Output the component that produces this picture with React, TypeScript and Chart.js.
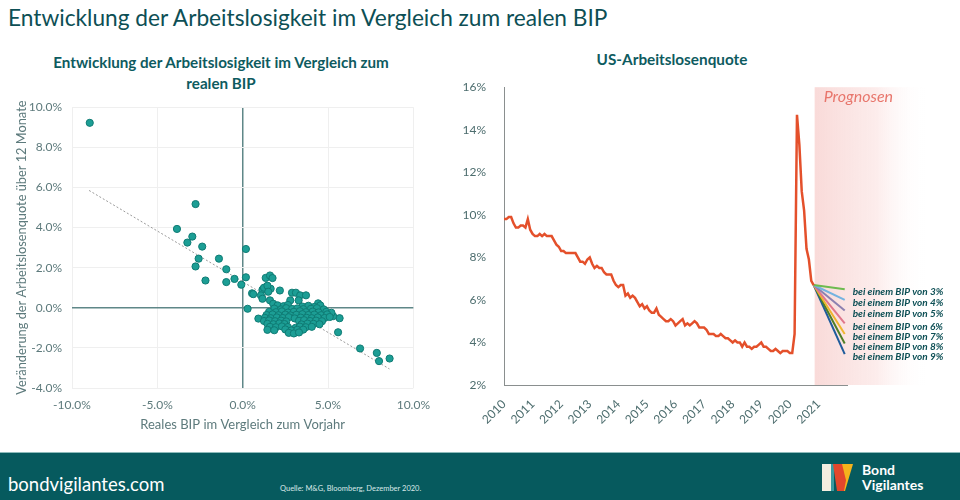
import React, { useEffect, useRef } from "react";
import { Chart, registerables } from "chart.js";

Chart.register(...registerables);

// ---------- Left chart data (scatter) ----------
const gdpGrowth = [
  -8.96, -2.76, -3.85, -2.95, -3.24, -2.37, -2.58, -2.76, -2.18, -1.39, -0.96, -0.96, -0.48, -0.08,
  0.19, 0.19, 0.29, 0.55, 0.62, 0.92, 6.88, 7.86, 7.99, 8.61, 5.59, 5.68, 5.3,
  1.35, 1.6, 1.75, 1.16, 1.25, 1.64, 2.18, 2.89, 3.12, 3.37, 3.71, 3.28, 2.79, 1.6, 1.79, 4.42, 1.07, 1.16, 1.45, 1.5,
  2.05, 2.4, 2.65, 3.5, 3.85, 4.2, 4.55,
  1.85, 2.25, 2.55, 2.9, 3.2, 3.55, 4.0, 4.35, 4.75,
  1.55, 1.95, 2.3, 2.65, 3.0, 3.35, 3.7, 4.1, 4.45, 4.9, 5.2,
  1.4, 1.75, 2.1, 2.5, 2.8, 3.15, 3.5, 3.85, 4.2, 4.6, 4.95,
  1.3, 1.65, 2.0, 2.35, 2.7, 3.05, 3.4, 3.75, 4.05, 4.4, 4.8, 5.1,
  1.25, 1.55, 1.9, 2.25, 2.55, 3.3, 3.6, 3.95, 4.3, 4.65,
  1.45, 1.8, 2.15, 2.45, 3.45, 3.8, 4.15, 4.5,
  1.6, 1.95, 2.3, 2.65, 3.1, 3.35, 3.7, 4.05,
  1.45, 1.85, 2.5, 2.85, 3.2, 3.55,
  2.7, 3.0, 3.3,
];
const unemploymentChange = [
  9.22, 5.17, 3.93, 3.55, 3.25, 3.05, 2.45, 2.06, 1.36, 2.45, 1.92, 1.28, 1.44, 1.15,
  2.93, 1.52, -0.05, 0.72, 0.68, -0.54, -2.03, -2.25, -2.66, -2.53, -1.22, -0.52, -0.42,
  1.49, 1.61, 1.48, 0.9, 1.0, 0.95, 0.86, 0.75, 0.75, 0.62, 0.62, 0.37, 0.37, 0.37, 0.2, 0.22, 0.62, 0.45, 1.1, 0.8,
  0.12, 0.08, 0.14, 0.06, 0.1, 0.04, 0.12,
  -0.04, -0.08, -0.02, -0.06, -0.03, -0.07, -0.05, -0.02, -0.08,
  -0.2, -0.22, -0.18, -0.24, -0.2, -0.17, -0.22, -0.19, -0.23, -0.2, -0.25,
  -0.36, -0.33, -0.37, -0.34, -0.38, -0.35, -0.32, -0.36, -0.34, -0.37, -0.33,
  -0.5, -0.52, -0.48, -0.51, -0.47, -0.53, -0.49, -0.5, -0.52, -0.48, -0.51, -0.46,
  -0.66, -0.63, -0.67, -0.64, -0.68, -0.65, -0.62, -0.66, -0.64, -0.67,
  -0.8, -0.82, -0.78, -0.81, -0.83, -0.79, -0.8, -0.82,
  -0.95, -0.97, -0.93, -0.96, -1.0, -0.94, -0.97, -0.95,
  -1.1, -1.12, -1.08, -1.13, -1.1, -1.09,
  -1.25, -1.28, -1.23,
];
const trendX = [-9.0, 8.6];
const trendY = [5.85, -3.05];

// ---------- Right chart data (US unemployment rate, monthly from Jan 2010) ----------
const startYear = 2010;
const unemploymentRate = [
  9.8, 9.8, 9.9, 9.9, 9.6, 9.4, 9.4, 9.5, 9.5, 9.4, 9.8, 9.3,
  9.1, 9.0, 9.0, 9.1, 9.0, 9.1, 9.0, 9.0, 9.0, 8.8, 8.6, 8.5,
  8.3, 8.3, 8.2, 8.2, 8.2, 8.2, 8.2, 8.0, 7.8, 7.8, 7.7, 7.9,
  8.0, 7.7, 7.5, 7.6, 7.5, 7.5, 7.3, 7.2, 7.2, 7.2, 6.9, 6.7,
  6.6, 6.7, 6.7, 6.2, 6.3, 6.1, 6.2, 6.1, 5.9, 5.7, 5.8, 5.6,
  5.7, 5.5, 5.4, 5.4, 5.6, 5.3, 5.2, 5.1, 5.0, 5.0, 5.1, 5.0,
  4.8, 4.9, 5.0, 5.1, 4.8, 4.9, 4.8, 4.9, 5.0, 4.9, 4.7, 4.7,
  4.7, 4.6, 4.4, 4.4, 4.4, 4.3, 4.3, 4.4, 4.3, 4.2, 4.2, 4.1,
  4.0, 4.1, 4.0, 4.0, 3.8, 4.0, 3.8, 3.8, 3.7, 3.8, 3.8, 3.9,
  4.0, 3.8, 3.8, 3.7, 3.6, 3.6, 3.7, 3.6, 3.5, 3.6, 3.6, 3.6,
  3.5, 3.5, 4.4, 14.7, 13.3, 11.1, 10.2, 8.4, 7.9, 6.9, 6.7,
];
const yearLabels = ["2010", "2011", "2012", "2013", "2014", "2015", "2016", "2017", "2018", "2019", "2020", "2021"];
const forecastEndYear = 2021.92;
const forecastGdp = [3, 4, 5, 6, 7, 8, 9];
const forecastEndRate = [6.5, 6.0, 5.5, 4.9, 4.4, 3.95, 3.45];
const forecastColors = ["#6dbb4f", "#74b3e0", "#8c80b0", "#e0778c", "#f0b52e", "#4f7f26", "#1f5c9c"];

const FONT = "Lato, 'Open Sans', sans-serif";
const TEAL_DARK = "#0d4f55";

export default function App() {
  const leftRef = useRef<HTMLCanvasElement | null>(null);
  const rightRef = useRef<HTMLCanvasElement | null>(null);

  useEffect(() => {
    Chart.defaults.font.family = FONT;

    const scatterPoints = gdpGrowth.map((x, i) => ({ x, y: unemploymentChange[i] }));
    const trendPoints = trendX.map((x, i) => ({ x, y: trendY[i] }));
    const leftTick = "#5d7a7c";

    const left = new Chart(leftRef.current!, {
      type: "scatter",
      data: {
        datasets: [
          {
            type: "line",
            data: trendPoints,
            borderColor: "#9a9a9a",
            borderWidth: 1,
            borderDash: [2, 2],
            pointRadius: 0,
            fill: false,
            order: 2,
          } as any,
          {
            data: scatterPoints,
            backgroundColor: "#1c9e95",
            borderColor: "#0f7b74",
            borderWidth: 1,
            pointRadius: 3.6,
            order: 1,
          },
        ],
      },
      options: {
        responsive: false,
        animation: false,
        layout: { padding: { top: 16, right: 20, left: 2, bottom: 0 } },
        plugins: { legend: { display: false }, tooltip: { enabled: false } },
        scales: {
          x: {
            type: "linear",
            min: -10,
            max: 10,
            ticks: {
              stepSize: 5,
              callback: (v: any) => Number(v).toFixed(1) + "%",
              padding: 10,
              color: leftTick,
              font: { size: 12 },
            },
            grid: {
              color: (c: any) => (c.tick && c.tick.value === 0 ? "#5f8788" : "#efefef"),
              lineWidth: (c: any) => (c.tick && c.tick.value === 0 ? 1.5 : 1),
              drawTicks: false,
            },
            border: { display: false },
            title: {
              display: true,
              text: "Reales BIP im Vergleich zum Vorjahr",
              color: leftTick,
              font: { size: 13 },
              padding: { top: 0, bottom: 7 },
            },
            afterFit: (s: any) => {
              s.height = 52;
            },
          },
          y: {
            type: "linear",
            min: -4,
            max: 10,
            ticks: {
              stepSize: 2,
              callback: (v: any) => Number(v).toFixed(1) + "%",
              padding: 10,
              color: leftTick,
              font: { size: 12 },
            },
            grid: {
              color: (c: any) => (c.tick && c.tick.value === 0 ? "#5f8788" : "#efefef"),
              lineWidth: (c: any) => (c.tick && c.tick.value === 0 ? 1.5 : 1),
              drawTicks: false,
            },
            border: { display: false },
            title: {
              display: true,
              text: "Veränderung der Arbeitslosenquote über 12 Monate",
              color: leftTick,
              font: { size: 12.8 },
              padding: { top: 12, bottom: 0 },
            },
            afterFit: (s: any) => {
              s.width = 70;
            },
          },
        },
      },
    });

    const monthX = (i: number) => startYear + i / 12;
    const mainPoints = unemploymentRate.map((y, i) => ({ x: monthX(i), y }));
    const lastIdx = unemploymentRate.length - 1;
    const forecastStartX = monthX(lastIdx);
    const forecastStartY = unemploymentRate[lastIdx];

    const forecastDatasets = forecastGdp.map((g, i) => ({
      label: "bei einem BIP von " + g + "%",
      data: [
        { x: forecastStartX, y: forecastStartY },
        { x: forecastEndYear, y: forecastEndRate[i] },
      ],
      borderColor: forecastColors[i],
      borderWidth: 2,
      pointRadius: 0,
      fill: false,
    }));

    const forecastPlugin = {
      id: "forecastDecor",
      beforeDatasetsDraw(chart: any) {
        const { ctx, chartArea, scales } = chart;
        const xs = scales.x;
        const l = xs.getPixelForValue(forecastStartX) + 1;
        const r = l + 112;
        const g = ctx.createLinearGradient(l, 0, r, 0);
        g.addColorStop(0, "rgba(248,212,210,0.85)");
        g.addColorStop(0.55, "rgba(251,228,227,0.7)");
        g.addColorStop(1, "rgba(255,255,255,0)");
        ctx.save();
        ctx.fillStyle = g;
        ctx.fillRect(l, chartArea.top, r - l, chartArea.bottom - chartArea.top);
        ctx.font = "italic 16px " + FONT;
        ctx.fillStyle = "#e8766c";
        ctx.textBaseline = "middle";
        ctx.textAlign = "left";
        ctx.fillText("Prognosen", l + 9, chartArea.top + 10);
        ctx.restore();
      },
      afterDatasetsDraw(chart: any) {
        const { ctx, scales } = chart;
        const xs = scales.x;
        const ys = scales.y;
        ctx.save();
        ctx.font = "italic bold 10px " + FONT;
        ctx.fillStyle = TEAL_DARK;
        ctx.textBaseline = "middle";
        ctx.textAlign = "left";
        forecastGdp.forEach((g, i) => {
          const px = xs.getPixelForValue(forecastEndYear) + 8;
          const py = ys.getPixelForValue(forecastEndRate[i]) + 3;
          ctx.fillText("bei einem BIP von " + g + "%", px, py);
        });
        ctx.restore();
      },
    };

    const rightTick = "#4d6d6e";
    const right = new Chart(rightRef.current!, {
      type: "line",
      data: {
        datasets: [
          {
            label: "US-Arbeitslosenquote",
            data: mainPoints,
            borderColor: "#e4502b",
            borderWidth: 2.5,
            pointRadius: 0,
            fill: false,
            tension: 0,
          },
          ...forecastDatasets,
        ],
      },
      options: {
        responsive: false,
        animation: false,
        layout: { padding: { top: 13, right: 113, left: 0, bottom: 0 } },
        plugins: { legend: { display: false }, tooltip: { enabled: false } },
        scales: {
          x: {
            type: "linear",
            min: 2010,
            max: 2022,
            ticks: {
              stepSize: 1,
              autoSkip: false,
              maxRotation: 45,
              minRotation: 45,
              callback: (v: any) => {
                const idx = Math.round(Number(v)) - startYear;
                return yearLabels[idx] !== undefined ? yearLabels[idx] : "";
              },
              padding: 4,
              color: rightTick,
              font: { size: 12 },
            },
            grid: { display: false },
            border: { display: true, color: "#8a8f8f", width: 1 },
            afterFit: (s: any) => {
              s.height = 65;
            },
          },
          y: {
            type: "linear",
            min: 2,
            max: 16,
            ticks: {
              stepSize: 2,
              callback: (v: any) => v + "%",
              padding: 10,
              color: rightTick,
              font: { size: 12 },
            },
            grid: { display: false },
            border: { display: true, color: "#8a8f8f", width: 1 },
            afterFit: (s: any) => {
              s.width = 64;
            },
          },
        },
      },
      plugins: [forecastPlugin],
    });

    return () => {
      left.destroy();
      right.destroy();
    };
  }, []);

  return (
    <div
      style={{
        position: "absolute",
        left: 0,
        top: 0,
        width: 960,
        height: 500,
        background: "#ffffff",
        fontFamily: FONT,
        overflow: "hidden",
      }}
    >
      <div
        style={{
          position: "absolute",
          left: 8,
          top: 4,
          fontSize: 22.7,
          lineHeight: "28px",
          color: TEAL_DARK,
          whiteSpace: "nowrap",
        }}
      >
        Entwicklung der Arbeitslosigkeit im Vergleich zum realen BIP
      </div>

      <div
        style={{
          position: "absolute",
          left: 21,
          top: 52,
          width: 400,
          textAlign: "center",
          fontSize: 15.2,
          fontWeight: 700,
          lineHeight: "21px",
          color: "#0e5b5f",
        }}
      >
        Entwicklung der Arbeitslosigkeit im Vergleich zum
        <br />
        realen BIP
      </div>

      <div
        style={{
          position: "absolute",
          left: 572,
          top: 49,
          width: 200,
          textAlign: "center",
          fontSize: 15.3,
          fontWeight: 700,
          lineHeight: "21px",
          color: "#0e5b5f",
        }}
      >
        US-Arbeitslosenquote
      </div>

      <canvas ref={leftRef} width={440} height={350} style={{ position: "absolute", left: 0, top: 90, width: 440, height: 350 }} />
      <canvas ref={rightRef} width={520} height={380} style={{ position: "absolute", left: 440, top: 70, width: 520, height: 380 }} />

      <div
        style={{
          position: "absolute",
          left: 0,
          top: 452,
          width: 960,
          height: 48,
          background: "#065a5e",
          borderTop: "1px solid #8dbbbb",
          boxSizing: "border-box",
        }}
      >
        <div style={{ position: "absolute", left: 8, top: 20, fontSize: 18.5, lineHeight: "22px", color: "#ffffff" }}>
          bondvigilantes.com
        </div>
        <div style={{ position: "absolute", left: 280, top: 31, fontSize: 7.5, lineHeight: "9px", color: "#d9e8e8" }}>
          Quelle: M&amp;G, Bloomberg, Dezember 2020.
        </div>
        <div style={{ position: "absolute", left: 822, top: 11, width: 31, height: 27 }}>
          <div style={{ position: "absolute", left: 0, top: 0, width: 10, height: 27, background: "#f3eee0" }} />
          <div style={{ position: "absolute", left: 9, top: 0, width: 3, height: 27, background: "#3a9aa0" }} />
          <div
            style={{
              position: "absolute",
              left: 11,
              top: 0,
              width: 20,
              height: 27,
              background: "#f4b31c",
              clipPath: "polygon(30% 0, 100% 0, 60% 100%, 30% 100%)",
            }}
          />
          <div
            style={{
              position: "absolute",
              left: 11,
              top: 0,
              width: 20,
              height: 27,
              background: "#e2472c",
              clipPath: "polygon(0 0, 45% 0, 65% 60%, 55% 100%, 20% 100%)",
            }}
          />
        </div>
        <div
          style={{
            position: "absolute",
            left: 862,
            top: 9,
            fontSize: 14,
            fontWeight: 700,
            lineHeight: "15px",
            color: "#ffffff",
          }}
        >
          Bond
          <br />
          Vigilantes
        </div>
      </div>
    </div>
  );
}
